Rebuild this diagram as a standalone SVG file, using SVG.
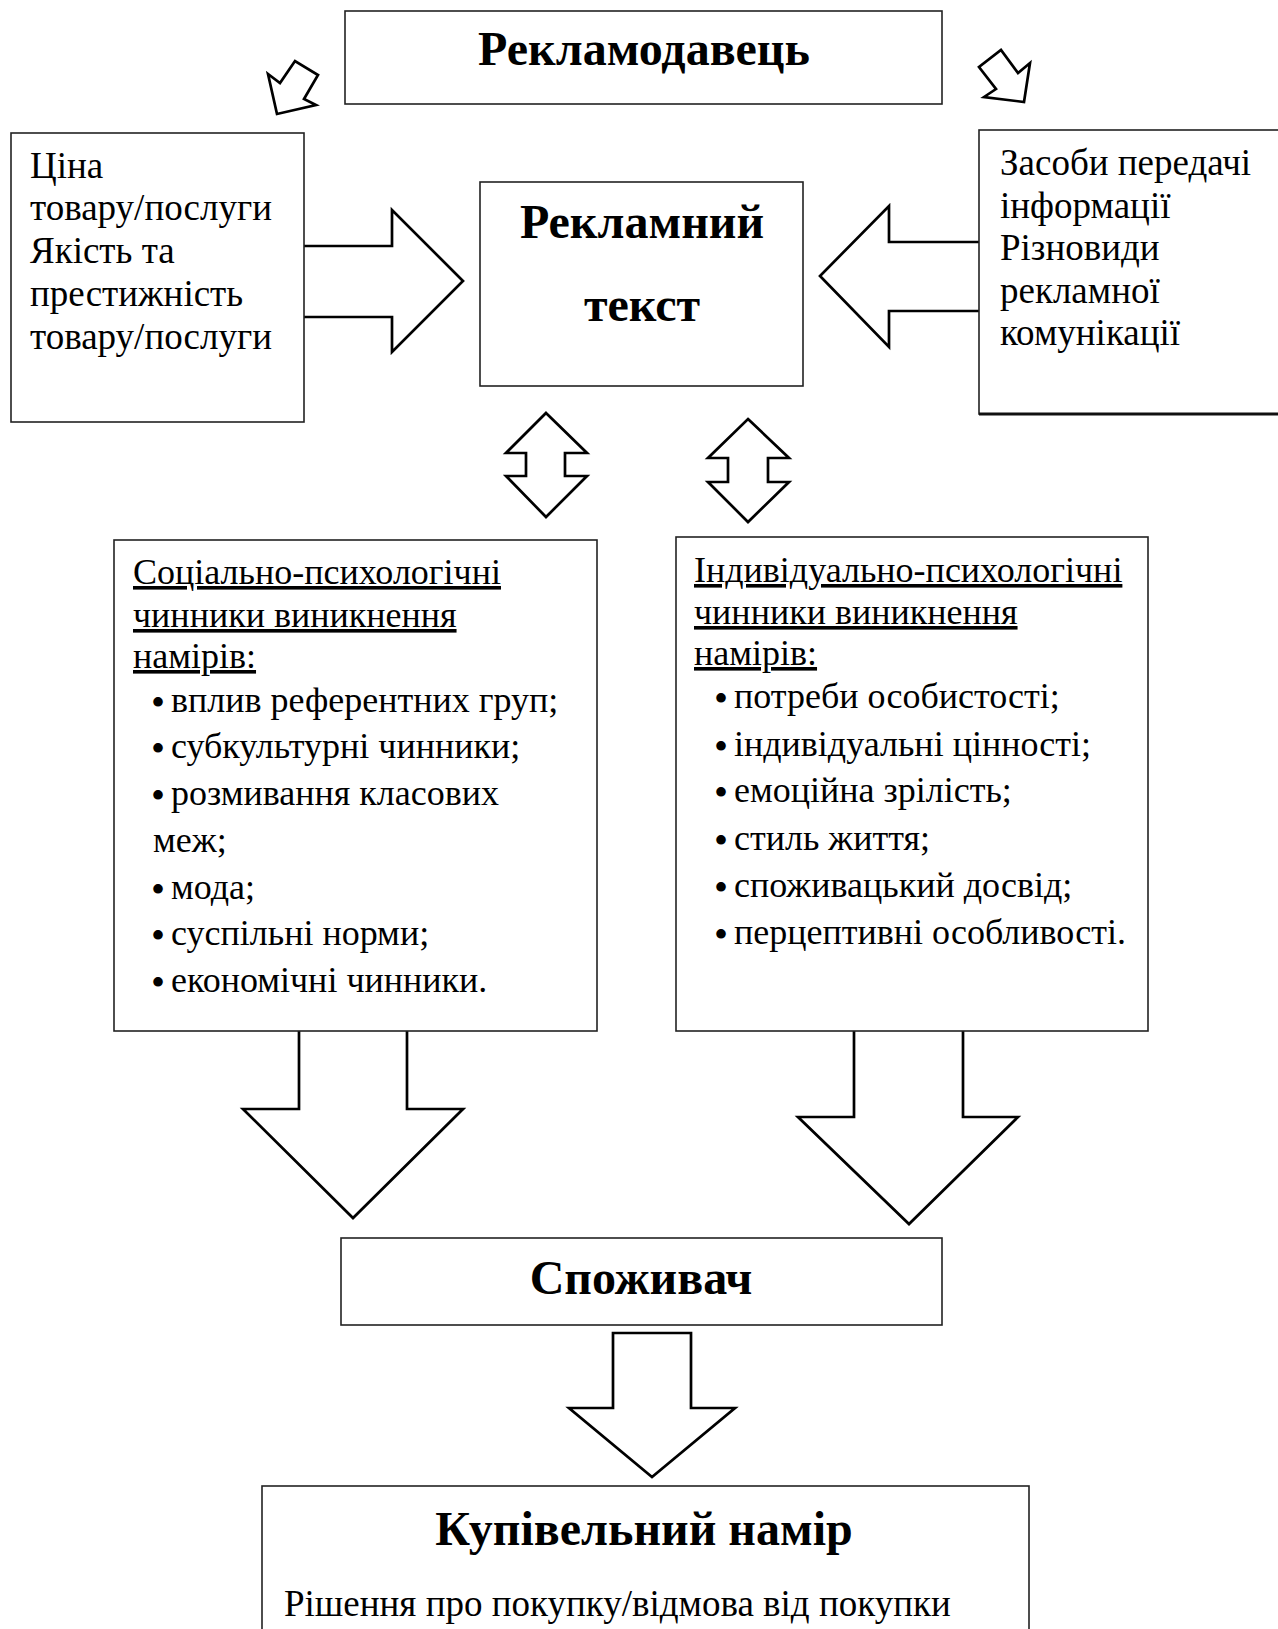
<svg xmlns="http://www.w3.org/2000/svg" width="1278" height="1629" viewBox="0 0 1278 1629">
<style>
.box{fill:#fff;stroke:#222;stroke-width:1.6}
.arr{fill:#fff;stroke:#000;stroke-width:2.7;stroke-linejoin:miter}
.t{font-family:"Liberation Serif","Times New Roman",serif;font-size:37px;fill:#000}
.m{font-size:36px}
.b{font-size:40px}
.h{font-family:"Liberation Serif","Times New Roman",serif;font-size:48px;font-weight:bold;fill:#000;text-anchor:middle}
.u{text-decoration:underline}
</style>
<rect width="1278" height="1629" fill="#fff"/>
<g id="connectors">
<polygon class="arr" points="277,114 268,74 280,83 295,61 318,75 304,99 316,105"/>
<polygon class="arr" points="1024,102 1030,63 1018,73 1001,50 979,67 996,89 984,97"/>
<polyline class="arr" points="304,246 392,246 392,210 463,281 392,352 392,317 304,317"/>
<polyline class="arr" points="979,242 889,242 889,206 820,276 889,347 889,311 979,311"/>
<polygon class="arr" points="546,413 587,453 565,453 565,476 587,476 546,517 506,476 526,476 526,453 506,453"/>
<polygon class="arr" points="748,419 789,458 768,458 768,482 789,482 748,522 708,482 728,482 728,458 708,458"/>
<polyline class="arr" points="299,1031 299,1109 243,1109 353,1218 463,1109 407,1109 407,1031"/>
<polyline class="arr" points="854,1031 854,1117 798,1117 909,1224 1018,1117 963,1117 963,1031"/>
<polygon class="arr" points="613,1333 691,1333 691,1408 735,1408 652,1477 569,1408 613,1408"/>
</g>
<g id="advertiser">
<rect class="box" x="345" y="11" width="597" height="93"/>
<text class="h" x="644" y="65">Рекламодавець</text>
</g>
<g id="price">
<rect class="box" x="11" y="133" width="293" height="289"/>
<text class="t" x="30" y="178">Ціна</text>
<text class="t" x="30" y="220">товару/послуги</text>
<text class="t" x="30" y="263">Якість та</text>
<text class="t" x="30" y="306">престижність</text>
<text class="t" x="30" y="349">товару/послуги</text>
</g>
<g id="adtext">
<rect class="box" x="480" y="182" width="323" height="204"/>
<text class="h" x="642" y="238">Рекламний</text>
<text class="h" x="642" y="321">текст</text>
</g>
<g id="media">
<rect class="box" x="979" y="130" width="320" height="284"/>
<line x1="979" y1="414" x2="1278" y2="414" stroke="#111" stroke-width="3"/>
<text class="t" x="1000" y="175">Засоби передачі</text>
<text class="t" x="1000" y="218">інформації</text>
<text class="t" x="1000" y="260">Різновиди</text>
<text class="t" x="1000" y="303">рекламної</text>
<text class="t" x="1000" y="345">комунікації</text>
</g>
<g id="social">
<rect class="box" x="114" y="540" width="483" height="491"/>
<text class="t m u" x="133" y="584">Соціально-психологічні</text>
<text class="t m u" x="133" y="627">чинники виникнення</text>
<text class="t m u" x="133" y="668">намірів:</text>
<text class="t m" x="151" y="712"><tspan class="b" dy="4">•</tspan><tspan x="171" dy="-4">вплив референтних груп;</tspan></text>
<text class="t m" x="151" y="758"><tspan class="b" dy="4">•</tspan><tspan x="171" dy="-4">субкультурні чинники;</tspan></text>
<text class="t m" x="151" y="805"><tspan class="b" dy="4">•</tspan><tspan x="171" dy="-4">розмивання класових</tspan></text>
<text class="t m" x="153" y="852">меж;</text>
<text class="t m" x="151" y="899"><tspan class="b" dy="4">•</tspan><tspan x="171" dy="-4">мода;</tspan></text>
<text class="t m" x="151" y="945"><tspan class="b" dy="4">•</tspan><tspan x="171" dy="-4">суспільні норми;</tspan></text>
<text class="t m" x="151" y="992"><tspan class="b" dy="4">•</tspan><tspan x="171" dy="-4">економічні чинники.</tspan></text>
</g>
<g id="individual">
<rect class="box" x="676" y="537" width="472" height="494"/>
<text class="t m u" x="694" y="582">Індивідуально-психологічні</text>
<text class="t m u" x="694" y="624">чинники виникнення</text>
<text class="t m u" x="694" y="665">намірів:</text>
<text class="t m" x="714" y="708"><tspan class="b" dy="4">•</tspan><tspan x="734" dy="-4">потреби особистості;</tspan></text>
<text class="t m" x="714" y="756"><tspan class="b" dy="4">•</tspan><tspan x="734" dy="-4">індивідуальні цінності;</tspan></text>
<text class="t m" x="714" y="802"><tspan class="b" dy="4">•</tspan><tspan x="734" dy="-4">емоційна зрілість;</tspan></text>
<text class="t m" x="714" y="850"><tspan class="b" dy="4">•</tspan><tspan x="734" dy="-4">стиль життя;</tspan></text>
<text class="t m" x="714" y="897"><tspan class="b" dy="4">•</tspan><tspan x="734" dy="-4">споживацький досвід;</tspan></text>
<text class="t m" x="714" y="944"><tspan class="b" dy="4">•</tspan><tspan x="734" dy="-4">перцептивні особливості.</tspan></text>
</g>
<g id="consumer">
<rect class="box" x="341" y="1238" width="601" height="87"/>
<text class="h" x="641" y="1294">Споживач</text>
</g>
<g id="intent">
<rect class="box" x="262" y="1486" width="767" height="160"/>
<text class="h" x="644" y="1545">Купівельний намір</text>
<text class="t" x="284" y="1616">Рішення про покупку/відмова від покупки</text>
</g>
</svg>
